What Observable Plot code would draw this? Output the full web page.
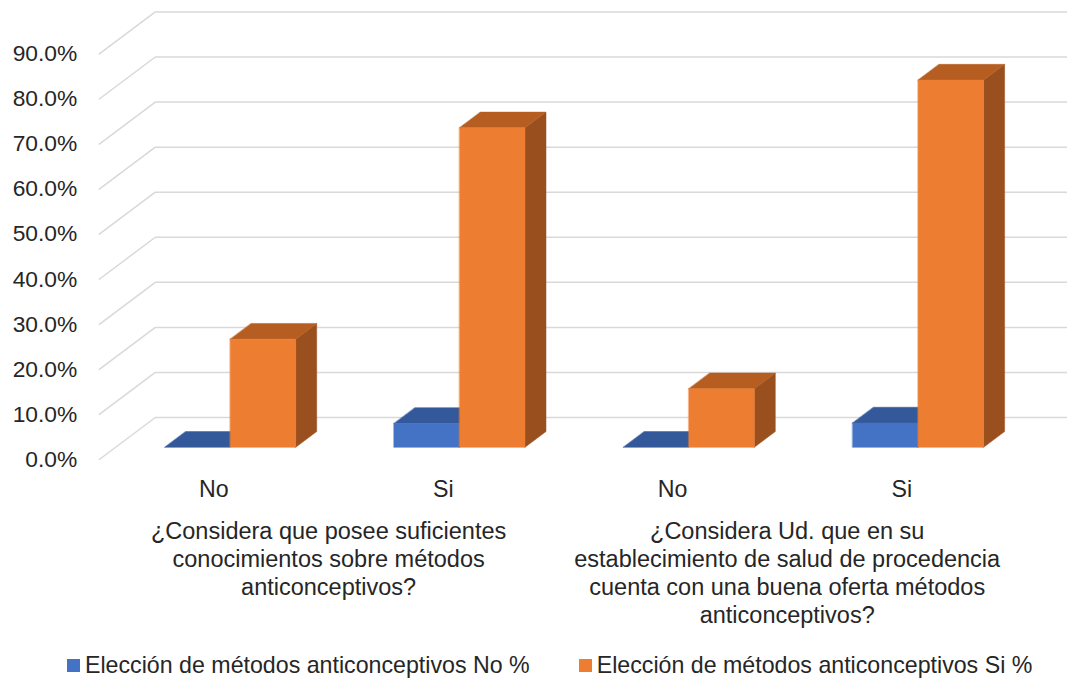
<!DOCTYPE html>
<html>
<head>
<meta charset="utf-8">
<script src="https://cdn.jsdelivr.net/npm/d3@7"></script>
<script src="https://cdn.jsdelivr.net/npm/@observablehq/plot@0.6"></script>
<style>
  html, body { margin: 0; padding: 0; background: #fff; }
  body { width: 1067px; height: 679px; overflow: hidden; font-family: "Liberation Sans", Arial, sans-serif; color: #262626; }
  #legend { display: flex; align-items: center; height: 39px; padding-top: 6px; padding-left: 67px; font-size: 23.2px; white-space: nowrap; }
  #legend .item { display: flex; align-items: center; }
  #legend .sw { width: 13px; height: 13px; margin-right: 5px; }
  #legend .item + .item { margin-left: 49px; }
</style>
</head>
<body>
<div id="chart"></div>
<div id="legend"></div>
<script>
// Categories along the x axis and the two questions they belong to
const categories = ["No", "Si", "No", "Si"];
const questions = [
  "¿Considera que posee suficientes\nconocimientos sobre métodos\nanticonceptivos?",
  "¿Considera Ud. que en su\nestablecimiento de salud de procedencia\ncuenta con una buena oferta métodos\nanticonceptivos?"
];
// Series (percent)
const seriesNames = [
  "Elección de métodos anticonceptivos No %",
  "Elección de métodos anticonceptivos Si %"
];
const valuesNo = [0, 5.3, 0, 5.4];
const valuesSi = [24.0, 70.9, 13.0, 81.5];
const yTicks = [0, 10, 20, 30, 40, 50, 60, 70, 80, 90];

// Face colours per series: front, top, side
const palette = [
  {front: "#4472c4", top: "#34599b", side: "#2d4f8a"},
  {front: "#ed7d31", top: "#b65e22", side: "#9a4f1e"}
];

// Layout
const W = 1067, H = 640;
const marginLeft = 98.8, marginRight = 51, marginTop = 8.4, marginBottom = 181;
const DEPTH_X = 56, DEPTH_Y = 42;          // oblique depth offset of the floor, px
const BAR_W = 0.2857;                       // bar width in category units
const D0 = 0.29, D1 = 0.665;                // bar depth span (fraction of floor depth)

// Convert the pixel depth offset into data units so everything goes through the scales
const pxPerU = (W - marginLeft - marginRight) / 4;
const pxPerV = (H - marginTop - marginBottom) / 100;
const DU = DEPTH_X / pxPerU, DV = DEPTH_Y / pxPerV;
const proj = (u, v, d) => ({x: u + d * DU, y: v + d * DV});

// Perspective gridlines: left wall diagonal then the back wall
const grid = yTicks.flatMap(v => [
  {...proj(0, v, 0), z: v},
  {...proj(0, v, 1), z: v},
  {...proj(4, v, 1), z: v}
]);

// Box faces, listed back-to-front / left-to-right so later faces cover earlier ones
const faces = [];
categories.forEach((c, i) => {
  [valuesNo[i], valuesSi[i]].forEach((val, s) => {
    const u0 = i + 0.5 + (s === 0 ? -BAR_W : 0), u1 = u0 + BAR_W;
    const col = palette[s];
    const add = (id, color, pts) => pts.forEach(p => faces.push({...proj(...p), id, color}));
    const key = `${i}-${s}`;
    if (val > 0) add(key + "side", col.side, [[u1, 0, D0], [u1, 0, D1], [u1, val, D1], [u1, val, D0]]);
    add(key + "top", col.top, [[u0, val, D0], [u1, val, D0], [u1, val, D1], [u0, val, D1]]);
    if (val > 0) add(key + "front", col.front, [[u0, 0, D0], [u1, 0, D0], [u1, val, D0], [u0, val, D0]]);
  });
});

const catLabels = categories.map((c, i) => ({u: i + 0.5, v: 0, label: c}));
const qLabels = questions.map((q, i) => ({u: 2 * i + 1, v: 0, label: q}));

const chart = Plot.plot({
  width: W, height: H,
  marginLeft, marginRight, marginTop, marginBottom,
  x: {domain: [0, 4], axis: null},
  y: {domain: [0, 100], label: null},
  color: {type: "identity"},
  style: {fontFamily: "'Liberation Sans', Arial, sans-serif", fontSize: "23px", color: "#262626", background: "#fff", overflow: "hidden"},
  marks: [
    Plot.line(grid, {x: "x", y: "y", z: "z", stroke: "#d9d9d9", strokeWidth: 1.5}),
    Plot.axisY(yTicks, {tickSize: 0, tickPadding: 22, label: null, fontSize: 22.8, tickFormat: d => d.toFixed(1) + "%"}),
    Plot.line(faces, {x: "x", y: "y", z: "id", fill: "color", stroke: "color", strokeWidth: 0.5, curve: "linear-closed"}),
    Plot.text(catLabels, {x: "u", y: "v", text: "label", dy: 30, fontSize: 23.2}),
    Plot.text(qLabels, {x: "u", y: "v", text: "label", lineAnchor: "top", lineHeight: 1.2, dy: 59, fontSize: 23.5})
  ]
});
document.getElementById("chart").appendChild(chart);

// Legend below the chart
const legend = d3.select("#legend");
seriesNames.forEach((name, s) => {
  const item = legend.append("div").attr("class", "item");
  item.append("div").attr("class", "sw").style("background", palette[s].front);
  item.append("span").text(name);
});
</script>
</body>
</html>
